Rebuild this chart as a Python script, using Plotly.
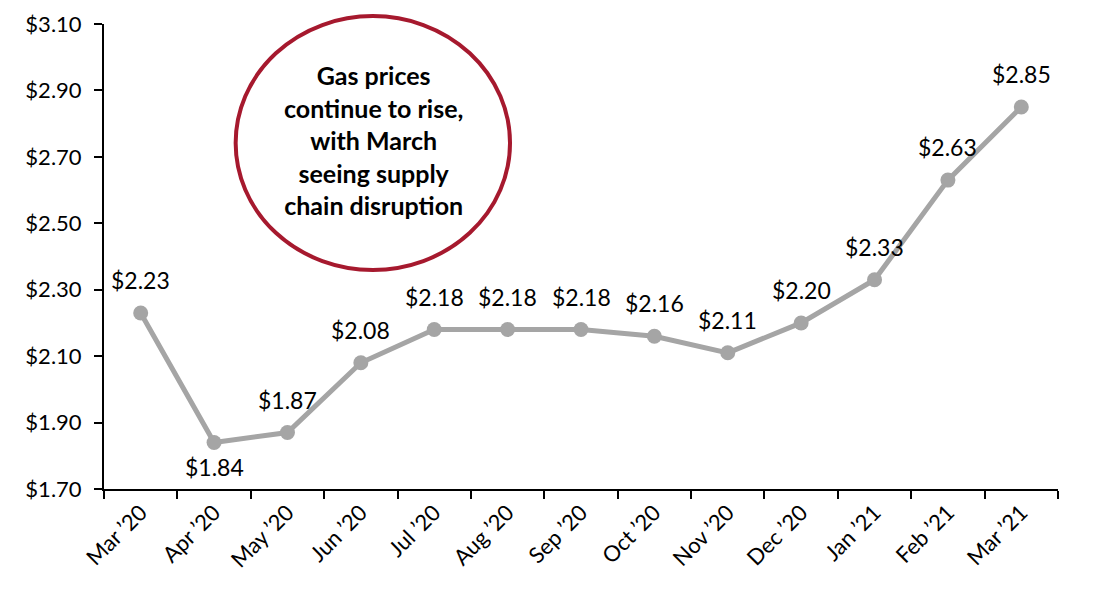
import plotly.graph_objects as go

months = ["Mar \u201920", "Apr \u201920", "May \u201920", "Jun \u201920", "Jul \u201920", "Aug \u201920",
          "Sep \u201920", "Oct \u201920", "Nov \u201920", "Dec \u201920", "Jan \u201921", "Feb \u201921", "Mar \u201921"]
prices = [2.23, 1.84, 1.87, 2.08, 2.18, 2.18, 2.18, 2.16, 2.11, 2.20, 2.33, 2.63, 2.85]
label_below = [False, True, False, False, False, False, False, False, False, False, False, False, False]
y_ticks = [1.70, 1.90, 2.10, 2.30, 2.50, 2.70, 2.90, 3.10]

FONT = "Lato"

fig = go.Figure()
fig.add_trace(go.Scatter(
    x=months, y=prices, mode="lines+markers",
    line=dict(color="#A5A5A5", width=5),
    marker=dict(color="#A5A5A5", size=15),
    hoverinfo="skip", showlegend=False,
))

for m, p, below in zip(months, prices, label_below):
    fig.add_annotation(
        x=m, y=p, text=f"${p:.2f}", showarrow=False,
        yanchor="middle", xanchor="center",
        yshift=-24 if below else 33,
        font=dict(family=FONT, size=23, color="black"),
    )

fig.add_shape(
    type="circle", xref="paper", yref="paper",
    x0=0.138, x1=0.4256, y0=0.471, y1=1.017,
    line=dict(color="#A6192E", width=4), fillcolor="white", layer="above",
)
fig.add_annotation(
    xref="paper", yref="paper", x=0.282, y=0.751,
    text="<b>Gas prices<br>continue to rise,<br>with March<br>seeing supply<br>chain disruption</b>",
    showarrow=False, align="center", xanchor="center", yanchor="middle",
    font=dict(family=FONT, size=25, color="black"),
)

fig.update_layout(
    width=1089, height=602,
    margin=dict(l=96, r=39, t=16, b=121),
    paper_bgcolor="white", plot_bgcolor="white",
    font=dict(family=FONT, size=22, color="black"),
)
fig.update_xaxes(
    type="category", range=[-0.5, 12.5],
    showline=True, linecolor="black", linewidth=2,
    ticks="outside", tickson="boundaries", ticklen=8, tickwidth=2, tickcolor="black",
    tickangle=-45, showgrid=False, zeroline=False, automargin=False,
    tickfont=dict(family=FONT, size=22, color="black"),
)
fig.update_yaxes(
    range=[1.70, 3.10], tickvals=y_ticks,
    ticktext=[f"${v:.2f}" for v in y_ticks],
    showline=True, linecolor="black", linewidth=2,
    ticks="outside", ticklen=8, tickwidth=2, tickcolor="black",
    ticklabelstandoff=8,
    showgrid=False, zeroline=False, automargin=False,
    tickfont=dict(family=FONT, size=22, color="black"),
)

fig.write_html("out.html")
